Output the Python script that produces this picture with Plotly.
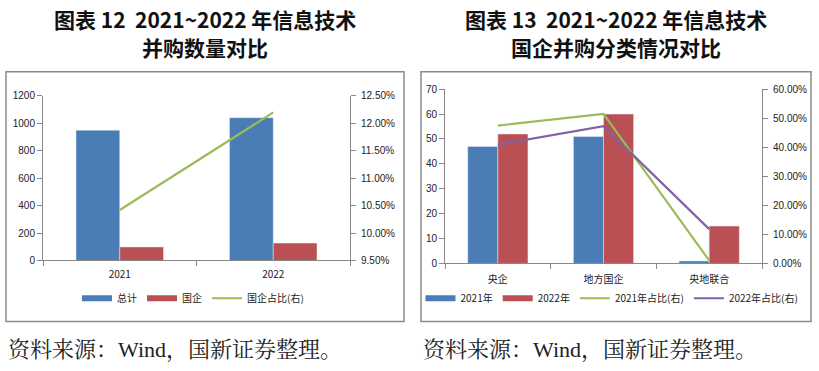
import plotly.graph_objects as go

W, H = 819, 371

# ---- Left chart data ----
years = ["2021", "2022"]
total = [950, 1042]
soe = [99, 127]
soe_ratio = [0.1042, 0.1220]

# ---- Right chart data ----
cats = ["央企", "地方国企", "央地联合"]
v2021 = [47, 51, 1]
v2022 = [52, 60, 15]
r2021 = [0.4747, 0.5152, 0.0101]
r2022 = [0.4094, 0.4724, 0.1181]

BLUE = "#4A7DB6"
RED = "#BA4F54"
GREEN = "#9BBB59"
PURPLE = "#8064A2"
AX = "#888888"
TXT = "#222222"


def px_x(p):
    return p / W


def px_y(p):
    return 1 - p / H


fig = go.Figure()

# Left chart
fig.add_trace(go.Bar(x=years, y=total, name="总计", marker_color=BLUE,
                     xaxis="x", yaxis="y", showlegend=False))
fig.add_trace(go.Bar(x=years, y=soe, name="国企", marker_color=RED,
                     xaxis="x", yaxis="y", showlegend=False))
fig.add_trace(go.Scatter(x=years, y=soe_ratio, name="国企占比(右)", mode="lines",
                         line=dict(color=GREEN, width=2.2),
                         xaxis="x", yaxis="y2", showlegend=False))

# Right chart
fig.add_trace(go.Bar(x=cats, y=v2021, name="2021年", marker_color=BLUE,
                     xaxis="x3", yaxis="y3", showlegend=False))
fig.add_trace(go.Bar(x=cats, y=v2022, name="2022年", marker_color=RED,
                     xaxis="x3", yaxis="y3", showlegend=False))
fig.add_trace(go.Scatter(x=cats, y=r2021, name="2021年占比(右)", mode="lines",
                         line=dict(color=GREEN, width=2.2),
                         xaxis="x3", yaxis="y4", showlegend=False))
fig.add_trace(go.Scatter(x=cats, y=r2022, name="2022年占比(右)", mode="lines",
                         line=dict(color=PURPLE, width=2.2),
                         xaxis="x3", yaxis="y4", showlegend=False))


# Legend entries (Excel-style wide swatches)
def legend_entry(name, color, width, legend, xa, ya):
    fig.add_trace(go.Scatter(x=[None], y=[None], name=name, mode="lines",
                             line=dict(color=color, width=width),
                             xaxis=xa, yaxis=ya, legend=legend, showlegend=True,
                             hoverinfo="skip"))


legend_entry("总计", BLUE, 6, "legend", "x", "y")
legend_entry("国企", RED, 6, "legend", "x", "y")
legend_entry("国企占比(右)", GREEN, 2.2, "legend", "x", "y")
legend_entry("2021年", BLUE, 6, "legend2", "x3", "y3")
legend_entry("2022年", RED, 6, "legend2", "x3", "y3")
legend_entry("2021年占比(右)", GREEN, 2.2, "legend2", "x3", "y3")
legend_entry("2022年占比(右)", PURPLE, 2.2, "legend2", "x3", "y3")

tickfont = dict(family="Liberation Sans, Noto Sans CJK SC", size=10, color=TXT)
catfont = dict(family="Noto Sans CJK SC, Liberation Sans", size=10, color=TXT)

common_x = dict(type="category", showline=True, linecolor=AX, linewidth=1,
                ticks="outside", tickson="boundaries", ticklen=5, tickcolor=AX,
                tickfont=catfont, showgrid=False, zeroline=False)
common_y = dict(showline=True, linecolor=AX, linewidth=1, ticks="outside",
                ticklen=5, tickcolor=AX, tickfont=tickfont, showgrid=False,
                zeroline=False)

fig.update_layout(
    width=W, height=H,
    margin=dict(l=0, r=0, t=0, b=0),
    paper_bgcolor="white", plot_bgcolor="white",
    barmode="group", bargap=0.43, bargroupgap=0,
    xaxis=dict(common_x, domain=[px_x(43), px_x(350)], anchor="y",
               ticklabelstandoff=5),
    yaxis=dict(common_y, domain=[px_y(263), px_y(93)], anchor="x",
               range=[0, 1200], dtick=200),
    yaxis2=dict(common_y, overlaying="y", side="right", anchor="x",
                range=[0.095, 0.125], dtick=0.005, tickformat=".2%",
                ticklabelstandoff=3),
    xaxis3=dict(common_x, domain=[px_x(445), px_x(762)], anchor="y3",
                ticklabelstandoff=7),
    yaxis3=dict(common_y, domain=[px_y(266), px_y(86)], anchor="x3",
                range=[0, 70], dtick=10),
    yaxis4=dict(common_y, overlaying="y3", side="right", anchor="x3",
                range=[0, 0.6], dtick=0.1, tickformat=".2%",
                ticklabelstandoff=3),
    legend=dict(orientation="h", x=px_x(193), y=px_y(302), xanchor="center",
                yanchor="middle", font=catfont, itemwidth=30,
                bgcolor="rgba(0,0,0,0)", traceorder="normal"),
    legend2=dict(orientation="h", x=px_x(612), y=px_y(302), xanchor="center",
                 yanchor="middle", font=catfont, itemwidth=30,
                 bgcolor="rgba(0,0,0,0)", traceorder="normal"),
    showlegend=True,
)

# Frames
shapes = []
for x0, x1 in [(6, 404), (421, 811)]:
    shapes.append(dict(type="rect", xref="paper", yref="paper",
                       x0=px_x(x0), x1=px_x(x1), y0=px_y(326), y1=px_y(68),
                       line=dict(color="#8a8a8a", width=1.5), layer="below"))
fig.update_layout(shapes=shapes)

titlefont = dict(family="Noto Sans CJK SC", size=21, color="#111111")
anns = []
for cx, l1, l2 in [(205, "<b>图表 12\u00a0\u00a02021~2022 年信息技术</b>", "<b>并购数量对比</b>"),
                   (616, "<b>图表 13\u00a0\u00a02021~2022 年信息技术</b>", "<b>国企并购分类情况对比</b>")]:
    anns.append(dict(text=l1, x=px_x(cx), y=px_y(13), xref="paper", yref="paper",
                     showarrow=False, xanchor="center", yanchor="middle", font=titlefont))
    anns.append(dict(text=l2, x=px_x(cx), y=px_y(42), xref="paper", yref="paper",
                     showarrow=False, xanchor="center", yanchor="middle", font=titlefont))
srcfont = dict(family="Liberation Serif, Noto Serif CJK SC, Noto Sans CJK SC", size=22, color="#222222")
for sx in [6, 421]:
    anns.append(dict(text="资料来源：Wind，国新证券整理。", x=px_x(sx), y=px_y(356),
                     xref="paper", yref="paper", showarrow=False, xanchor="left",
                     yanchor="middle", font=srcfont))
fig.update_layout(annotations=anns)

fig.write_html("out.html", config={"displayModeBar": False},
               post_script="document.body.style.margin='0';")
